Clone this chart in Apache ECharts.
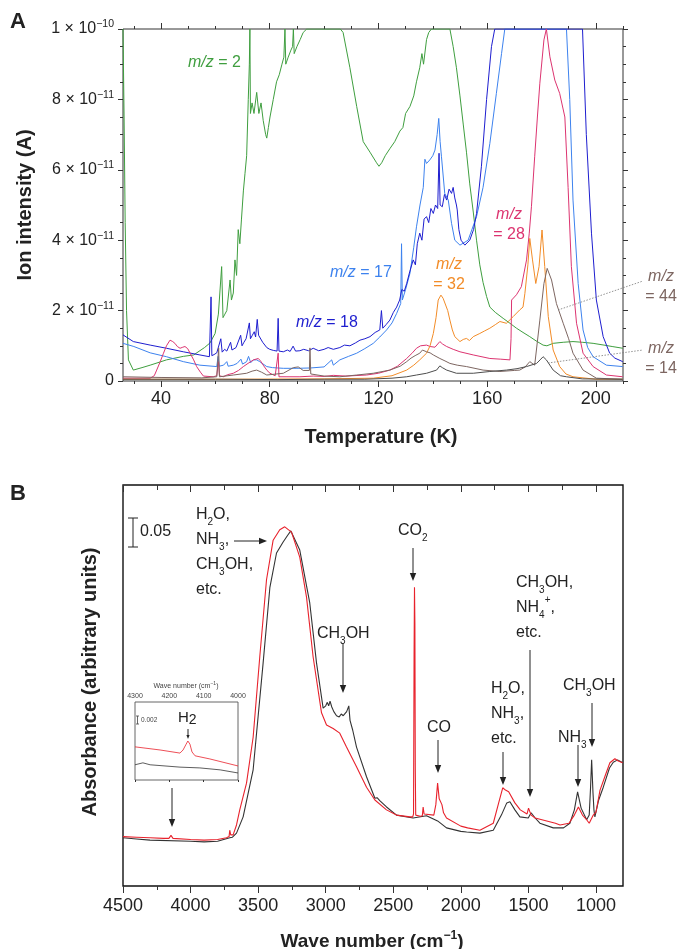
<!DOCTYPE html>
<html><head><meta charset="utf-8">
<script src="https://cdn.jsdelivr.net/npm/echarts@6/dist/echarts.min.js"></script>
<style>html,body{margin:0;padding:0;background:#fff}#c{width:679px;height:949px}</style>
</head><body><div id="c"></div><script>
// ---------- Panel A: ion intensity (units of 1e-11 A) vs temperature (K) ----------
const xTicksA = [40, 80, 120, 160, 200];
const xMinorA = [30, 50, 60, 70, 90, 100, 110, 130, 140, 150, 170, 180, 190, 210];
const yTicksA = [0, 2, 4, 6, 8, 10];
const mz2 = [[26.0,10],[26.4,7.5],[26.8,4.5],[27.3,2.0],[28.0,0.6],[29.8,0.31],[33,0.38],[36,0.45],[42,0.6],[48.2,0.7],[52,0.74],[56,0.95],[58,1.08],[59.9,1.35],[61.1,1.9],[62.3,3.25],[62.8,1.8],[63.5,1.9],[64.2,2.0],[65.4,2.87],[65.9,2.3],[66.6,2.5],[67.2,3.44],[67.8,3.0],[68.4,4.3],[69,3.9],[69.6,4.6],[70.3,5.4],[70.9,5.9],[71.5,6.4],[72.1,8.0],[72.5,9.0],[72.7,10],[72.9,7.6],[73.5,7.9],[74.2,7.6],[75.2,8.2],[76,7.6],[76.8,7.9],[77.6,7.4],[78.5,7.0],[78.9,6.9],[79.5,7.2],[80.1,7.5],[81.3,8.0],[82.5,8.5],[83.5,8.7],[84.5,9.0],[85.2,9.2],[85.6,10],[85.9,9.0],[86.8,9.2],[87.8,9.4],[88.4,9.5],[88.7,10],[89,9.3],[90,9.5],[91.2,9.7],[92.3,9.9],[93.6,10],[106,10],[107,9.9],[109.5,8.9],[112,7.8],[114.4,6.8],[116.9,6.5],[119.3,6.2],[120.2,6.1],[121.2,6.2],[122.5,6.4],[124.2,6.6],[126,6.8],[127.9,7.1],[129,7.2],[130,7.6],[131.6,7.8],[133,8.1],[134,8.5],[135.2,8.9],[136,9.3],[136.6,9.0],[137.7,9.7],[138.5,9.9],[139.5,10],[146.3,10],[147.5,9.5],[148.7,8.9],[150,8.1],[151.2,7.3],[152.4,6.5],[153.6,5.6],[154.9,4.8],[156.1,4.0],[157.3,3.3],[158.5,2.8],[159.8,2.4],[161,2.1],[163,1.95],[165.9,1.78],[168.4,1.64],[170.8,1.5],[173.2,1.38],[175.7,1.26],[178,1.14],[180.6,1.02],[182,1.0],[184.3,1.07],[188,1.1],[191.6,1.12],[195,1.1],[199,1.07],[203,1.02],[206,0.98],[209.9,0.93]];
const mz17 = [[26,1.07],[30,0.98],[36,0.8],[42,0.69],[48.2,0.55],[54.3,0.45],[60.5,0.41],[61,0.7],[61.4,0.42],[63,0.45],[64.2,0.55],[64.7,0.42],[66.6,0.45],[68,0.5],[69.4,0.62],[70,0.48],[71.5,0.55],[72.2,0.7],[73,0.52],[74,0.6],[75.2,0.6],[76.3,0.55],[78.9,0.41],[81,0.38],[83,0.37],[85,0.36],[90,0.36],[95,0.37],[100,0.4],[102.8,0.6],[103.4,0.45],[105.8,0.6],[109,0.7],[112,0.79],[115,0.92],[118.1,1.07],[120.5,1.25],[123,1.45],[125,1.65],[126.7,1.92],[128.2,2.2],[128.5,3.9],[128.8,2.3],[130,2.6],[131.6,3.06],[133,3.8],[134,4.38],[135.3,5.0],[136.5,5.5],[137.1,6.3],[137.7,6.18],[138.9,6.28],[140,6.4],[140.8,6.56],[141.6,7.0],[142.2,7.46],[142.7,6.8],[143.2,6.37],[144.4,5.33],[145.7,5.14],[146.9,4.48],[148.1,4.0],[150,3.86],[153,4.0],[156.1,4.67],[158.5,5.5],[161,6.75],[163.4,8.17],[165.3,9.3],[166.5,10],[189.2,10],[190.4,8.0],[191.6,5.14],[193.5,2.77],[195.3,1.45],[197,0.95],[199,0.69],[203.9,0.45],[209.9,0.41]];
const mz18 = [[26,1.31],[29.8,1.12],[36,1.02],[42,0.93],[48.2,0.83],[54.3,0.74],[57.8,0.69],[58.4,2.39],[58.7,0.72],[59.5,0.75],[60.5,0.8],[61.2,0.78],[62,1.2],[62.5,0.82],[63.4,0.9],[64.2,0.85],[65.6,1.1],[66.1,0.88],[67.6,0.95],[68.3,1.0],[69.3,1.3],[69.8,1.0],[70.5,1.1],[71.3,1.2],[72.5,1.65],[72.9,1.2],[73.6,1.3],[74.3,1.4],[74.8,1.25],[75.4,1.75],[75.9,1.3],[76.5,1.25],[77.4,1.1],[78.9,0.95],[80,0.9],[81.3,0.87],[82.7,0.85],[83.1,1.78],[83.4,0.85],[85,0.83],[86.5,0.88],[87.5,0.84],[88.6,0.99],[89.5,0.85],[91.1,0.86],[92.5,0.9],[94.3,0.86],[96,0.93],[98,0.86],[100,0.9],[101.5,0.95],[103.4,0.9],[105.8,0.95],[107.5,1.02],[109.5,1.0],[111.5,1.08],[113.2,1.16],[115,1.2],[116.9,1.26],[118.8,1.38],[120.5,1.45],[121.1,2.0],[121.6,1.5],[122.8,1.6],[124.2,1.73],[125.5,1.95],[126.7,2.1],[127.8,2.3],[128.6,2.6],[129.5,2.55],[130.4,2.77],[131.5,3.1],[132.8,3.44],[133.6,3.3],[134.3,3.9],[135.2,4.2],[136,4.0],[136.8,4.6],[137.7,4.67],[138.5,4.5],[139.3,4.9],[140.2,4.76],[141,5.0],[141.8,4.9],[142.3,6.47],[142.7,5.0],[143.5,4.95],[144.3,5.3],[145.1,5.14],[146,5.45],[146.9,5.33],[147.5,5.5],[148.1,5.2],[148.7,5.0],[149,4.86],[149.6,4.3],[150.4,4.0],[151.8,3.86],[153.6,4.0],[155,4.3],[156.1,4.76],[157.9,6.1],[159.8,8.0],[161.6,9.5],[162.8,10],[195.1,10],[196.5,7.0],[198.4,4.2],[200.2,2.3],[202.7,1.26],[205.1,0.79],[207,0.65],[209.9,0.55]];
const mz28 = [[26,0.08],[36,0.08],[37.5,0.15],[38.4,0.31],[39.7,0.55],[40.9,0.79],[42,1.0],[43.3,1.16],[44.3,1.12],[45.1,1.07],[46,0.98],[47,0.93],[48,0.96],[48.8,0.98],[49.8,0.92],[50.7,0.79],[52,0.6],[53.1,0.41],[54.5,0.25],[55.6,0.14],[59.2,0.12],[60.5,0.15],[61.1,0.55],[61.5,0.15],[62.9,0.12],[64.5,0.18],[66.6,0.22],[68.5,0.3],[70.3,0.41],[72,0.5],[74,0.6],[75.8,0.64],[76.8,0.55],[77.6,0.45],[79,0.3],[80.1,0.22],[82,0.15],[83.1,0.79],[83.4,0.12],[86,0.12],[91.1,0.12],[96,0.14],[100,0.13],[103.4,0.16],[108,0.14],[115.6,0.17],[120,0.22],[124.2,0.31],[127,0.42],[130.4,0.64],[132.5,0.8],[134,0.93],[135.5,1.0],[137.7,1.02],[139,0.98],[140.8,0.96],[142.6,1.12],[143.6,1.05],[145.1,0.98],[147.5,0.9],[150,0.83],[154.9,0.74],[161,0.64],[165,0.62],[168.4,0.6],[168.8,1.2],[169,2.3],[170.8,2.45],[172.6,2.68],[174.5,3.44],[175.5,4.2],[176.3,4.95],[177.5,6.37],[178.5,7.5],[179.4,8.46],[180.9,9.69],[181.8,10],[183.1,9.21],[184.9,8.55],[186.7,8.17],[188.6,7.5],[189.8,5.5],[191,3.25],[192.9,1.64],[195.3,0.79],[199,0.41],[203.9,0.17],[209.9,0.12]];
const mz32 = [[26,0.05],[60,0.05],[100,0.06],[118.1,0.08],[125,0.15],[130.4,0.31],[133,0.45],[135.2,0.6],[137.7,0.79],[139,1.0],[140.2,1.35],[141.2,1.8],[142,2.3],[143,2.44],[143.8,2.35],[144.4,2.3],[145.5,2.0],[146.3,1.73],[147.2,1.45],[148.1,1.26],[150,1.12],[151.2,1.18],[152.4,1.21],[153.5,1.15],[154.9,1.26],[157.3,1.35],[159,1.42],[161,1.5],[163,1.6],[164.7,1.69],[167.1,1.64],[169.6,1.83],[172,2.02],[173.2,2.1],[173.9,2.49],[175,3.3],[175.7,4.05],[176.7,3.44],[177.9,2.77],[179.1,3.25],[180.2,4.29],[181.2,3.25],[182.5,1.83],[184.3,0.88],[186.7,0.41],[189,0.2],[191.6,0.12],[200,0.05],[209.9,0.05]];
const mz44 = [[26,0.12],[40,0.1],[55,0.09],[60.5,0.12],[61.2,0.94],[61.5,0.12],[66.6,0.17],[71.5,0.22],[73.5,0.28],[75.2,0.31],[77,0.25],[78.9,0.17],[85,0.22],[88.7,0.38],[90.5,0.4],[92.3,0.3],[94.6,0.3],[94.8,0.94],[95.1,0.2],[100,0.14],[105.8,0.12],[112,0.17],[118.1,0.22],[124.2,0.31],[128,0.42],[130.4,0.55],[132,0.65],[133.5,0.72],[135.2,0.79],[136.2,0.88],[137.7,0.83],[139,0.8],[140.2,0.74],[142.6,0.64],[144.5,0.57],[146.3,0.5],[149,0.45],[152.4,0.41],[158.5,0.31],[164.7,0.27],[170,0.3],[172,0.31],[174,0.4],[175.7,0.55],[177.5,0.45],[179.4,1.73],[180.9,2.77],[182.1,3.2],[183.7,2.87],[185.5,2.2],[188,1.64],[190,1.2],[191.6,0.79],[195.3,0.31],[200.2,0.08],[209.9,0.05]];
const mz14 = [[26,0.05],[60,0.05],[83,0.04],[100,0.05],[115,0.05],[125,0.08],[130.4,0.12],[134,0.17],[137.7,0.22],[141.4,0.31],[142.6,0.43],[143.5,0.38],[145.1,0.31],[148.7,0.22],[154.9,0.22],[161,0.27],[167.1,0.31],[171,0.35],[174.5,0.41],[178.2,0.5],[179.5,0.6],[180.6,0.69],[181.8,0.6],[184.3,0.31],[187,0.15],[189.2,0.12],[195,0.06],[209.9,0.05]];

// ---------- Panel B: absorbance (arbitrary) vs wave number (cm-1) ----------
const xTicksB = [1000, 1500, 2000, 2500, 3000, 3500, 4000, 4500];
const xMinorB = [1250, 1750, 2250, 2750, 3250, 3750, 4250];
const specRed = [[4500,0.085],[4400,0.084],[4300,0.083],[4200,0.082],[4160,0.082],[4150,0.085],[4145,0.087],[4138,0.084],[4130,0.082],[4000,0.080],[3900,0.079],[3800,0.080],[3734,0.083],[3715,0.085],[3710,0.096],[3703,0.088],[3685,0.088],[3660,0.105],[3636,0.131],[3586,0.177],[3537,0.256],[3488,0.394],[3438,0.527],[3389,0.595],[3340,0.613],[3303,0.618],[3253,0.609],[3192,0.566],[3142,0.497],[3093,0.394],[3031,0.298],[2994,0.277],[2945,0.271],[2896,0.263],[2846,0.239],[2772,0.205],[2698,0.170],[2636,0.148],[2550,0.131],[2476,0.122],[2377,0.119],[2356,0.119],[2350,0.124],[2346,0.40],[2343,0.514],[2340,0.45],[2337,0.2],[2334,0.122],[2300,0.12],[2285,0.121],[2279,0.136],[2272,0.124],[2200,0.122],[2185,0.14],[2172,0.177],[2160,0.15],[2150,0.147],[2140,0.14],[2128,0.126],[2106,0.117],[2000,0.103],[1950,0.1],[1859,0.096],[1760,0.108],[1720,0.143],[1690,0.169],[1670,0.165],[1646,0.162],[1600,0.143],[1560,0.131],[1510,0.124],[1499,0.134],[1480,0.122],[1450,0.117],[1400,0.114],[1300,0.108],[1266,0.105],[1200,0.108],[1160,0.122],[1130,0.136],[1100,0.122],[1069,0.114],[1050,0.108],[1020,0.122],[1000,0.127],[970,0.165],[930,0.191],[897,0.212],[860,0.219],[835,0.215],[803,0.212]];
const specBlack = [[4500,0.083],[4400,0.081],[4300,0.079],[4000,0.077],[3900,0.076],[3800,0.077],[3710,0.083],[3690,0.084],[3660,0.091],[3611,0.119],[3537,0.2],[3463,0.384],[3413,0.514],[3364,0.573],[3315,0.592],[3280,0.604],[3258,0.611],[3192,0.578],[3118,0.487],[3068,0.384],[3019,0.306],[3000,0.31],[2988,0.316],[2978,0.31],[2968,0.318],[2955,0.308],[2940,0.3],[2920,0.293],[2900,0.291],[2885,0.296],[2870,0.293],[2845,0.3],[2829,0.31],[2820,0.285],[2800,0.268],[2772,0.239],[2698,0.188],[2636,0.151],[2620,0.152],[2600,0.147],[2550,0.136],[2476,0.122],[2353,0.117],[2254,0.121],[2172,0.112],[2106,0.1],[2000,0.094],[1957,0.093],[1859,0.091],[1760,0.096],[1700,0.122],[1660,0.143],[1637,0.145],[1600,0.131],[1563,0.119],[1501,0.117],[1480,0.126],[1450,0.117],[1415,0.108],[1316,0.1],[1240,0.1],[1193,0.108],[1160,0.131],[1136,0.162],[1110,0.134],[1069,0.114],[1050,0.122],[1040,0.17],[1032,0.217],[1022,0.16],[1015,0.131],[1008,0.119],[980,0.148],[946,0.17],[900,0.203],[872,0.213],[840,0.217],[802,0.212]];
// inset (H2 region)
const xTicksInset = [4000, 4100, 4200, 4300];
const insetRed = [[4300,0.0085],[4227,0.0077],[4169,0.0069],[4160,0.0077],[4151,0.0092],[4146,0.0100],[4140,0.0092],[4134,0.0072],[4125,0.0062],[4082,0.0054],[4000,0.0036]];
const insetBlack = [[4300,0.0039],[4277,0.0044],[4256,0.0039],[4169,0.0033],[4111,0.0031],[4052,0.0026],[4000,0.0018]];

const FF = '"Liberation Sans", Arial, Helvetica, sans-serif';
const DARK = '#222';
const C = {g:'#3f9e3f', lb:'#3d82ee', db:'#1e1ecf', pk:'#dc3470', or:'#f28c28', br:'#7d6661', dg:'#4d4d4d', red:'#e8222c', blk:'#333'};

const tickLine = {color:'#333', width:1};
const plain = v => String(v);
function xAx(grid, pos, min, max, vals, len, inside, labels, extra) {
  return Object.assign({gridIndex:grid, type:'value', position:pos, min, max,
    axisLine:{show:false}, splitLine:{show:false},
    axisTick:{show:true, inside, length:len, customValues:vals, lineStyle:tickLine},
    axisLabel: labels ? Object.assign({customValues:vals, fontFamily:FF, color:DARK, formatter:plain}, labels) : {show:false}}, extra||{});
}
const yRich = {b:{fontSize:16, fontFamily:FF, color:DARK, lineHeight:20},
               s:{fontSize:10.5, fontFamily:FF, color:DARK, lineHeight:12, verticalAlign:'top'}};
function yFmt(v){ if (v===0) return '{b|0}'; if (v===10) return '{b|1 × 10}{s|−10}'; return '{b|'+v+' × 10}{s|−11}'; }

function line(name, data, color, xi, yi, w) {
  return {name, type:'line', data, xAxisIndex:xi, yAxisIndex:yi, showSymbol:false, symbol:'none',
    lineStyle:{color, width:w||1}, itemStyle:{color}, animation:false, silent:true, z:3};
}

// ---------- annotations ----------
const G = [];
function txt(x, y, text, o) {
  G.push({type:'text', x, y, z:100, silent:true, rotation:(o&&o.rot)||0,
    style:Object.assign({text, fill:DARK, fontFamily:FF, fontSize:16, align:'left', verticalAlign:'middle',
      textAlign:'left', textVerticalAlign:'middle'}, o&&o.style)});
}
function seg(x1,y1,x2,y2,color,w,dash){
  G.push({type:'line', z:100, silent:true, shape:{x1,y1,x2,y2}, style:{stroke:color||DARK, lineWidth:w||1, lineDash:dash||null}});
}
function arrow(x1,y1,x2,y2,head,half){
  head = head||8; half = half||3.2;
  const a = Math.atan2(y2-y1, x2-x1);
  const bx = x2-head*Math.cos(a), by = y2-head*Math.sin(a);
  const px = -Math.sin(a)*half, py = Math.cos(a)*half;
  seg(x1,y1,bx,by,DARK,1);
  G.push({type:'polygon', z:100, silent:true, shape:{points:[[x2,y2],[bx+px,by+py],[bx-px,by-py]]}, style:{fill:DARK}});
}
const chem = {
  sub:{fontSize:10, fontFamily:FF, fill:DARK, lineHeight:14, verticalAlign:'bottom'},
  sup:{fontSize:10, fontFamily:FF, fill:DARK, lineHeight:14, verticalAlign:'top'},
  n:{fontSize:16, fontFamily:FF, fill:DARK, lineHeight:25}
};
function chemText(x, y, text, o){ txt(x, y, text, {style:Object.assign({rich:chem, verticalAlign:'top', textVerticalAlign:'top'}, o||{})}); }
function mzRich(color){
  return {i:{fontStyle:'italic', fontSize:16, fontFamily:FF, fill:color, lineHeight:20},
          n:{fontSize:16, fontFamily:FF, fill:color, lineHeight:20}};
}
function mz(x, y, text, color, align){
  txt(x, y, text, {style:{rich:mzRich(color), fill:color, align:align||'left', textAlign:align||'left'}});
}

// panel letters and axis titles
txt(10, 22, 'A', {style:{fontSize:22, fontWeight:'bold'}});
txt(10, 494, 'B', {style:{fontSize:22, fontWeight:'bold'}});
txt(25, 205, 'Ion intensity (A)', {rot:Math.PI/2, style:{fontSize:20, fontWeight:'bold', align:'center', textAlign:'center'}});
txt(381, 437, 'Temperature (K)', {style:{fontSize:20, fontWeight:'bold', align:'center', textAlign:'center'}});
txt(90, 682, 'Absorbance (arbitrary units)', {rot:Math.PI/2, style:{fontSize:20, fontWeight:'bold', align:'center', textAlign:'center'}});
txt(372, 942, '{m|Wave number (cm}{s|−1}{m|)}', {style:{align:'center', textAlign:'center',
  rich:{m:{fontSize:19, fontWeight:'bold', fontFamily:FF, fill:DARK, lineHeight:24},
        s:{fontSize:12, fontWeight:'bold', fontFamily:FF, fill:DARK, lineHeight:14, verticalAlign:'top'}}}});

// panel A labels
mz(188, 63, '{i|m/z}{n| = 2}', C.g);
mz(330, 273, '{i|m/z}{n| = 17}', C.lb);
mz(296, 323, '{i|m/z}{n| = 18}', C.db);
mz(509, 225, '{i|m/z}\n{n|= 28}', C.pk, 'center');
mz(449, 275, '{i|m/z}\n{n|= 32}', C.or, 'center');
mz(661, 287, '{i|m/z}\n{n|= 44}', C.br, 'center');
mz(661, 359, '{i|m/z}\n{n|= 14}', C.br, 'center');
seg(558, 310, 643, 281, '#777', 0.8, [1.5, 1.5]);
seg(548, 363, 643, 350, '#777', 0.8, [1.5, 1.5]);

// panel B labels
seg(133, 518, 133, 547); seg(128, 518, 138, 518); seg(128, 547, 138, 547);
txt(140, 532, '0.05', {style:{fontSize:16}});
chemText(196, 502, '{n|H}{sub|2}{n|O,}\n{n|NH}{sub|3}{n|,}\n{n|CH}{sub|3}{n|OH,}\n{n|etc.}');
arrow(234, 541, 267, 541);
chemText(317, 621, '{n|CH}{sub|3}{n|OH}');
arrow(343, 643, 343, 693);
chemText(398, 518, '{n|CO}{sub|2}');
arrow(413, 548, 413, 581);
chemText(427, 715, '{n|CO}');
arrow(438, 740, 438, 773);
chemText(491, 676, '{n|H}{sub|2}{n|O,}\n{n|NH}{sub|3}{n|,}\n{n|etc.}');
arrow(503, 752, 503, 785);
chemText(516, 570, '{n|CH}{sub|3}{n|OH,}\n{n|NH}{sub|4}{sup|+}{n|,}\n{n|etc.}');
arrow(530, 650, 530, 797);
chemText(558, 725, '{n|NH}{sub|3}');
arrow(578, 745, 578, 787);
chemText(563, 673, '{n|CH}{sub|3}{n|OH}');
arrow(592, 703, 592, 747);
arrow(172, 788, 172, 827);
// inset decorations
txt(186, 686, '{m|Wave number (cm}{s|−1}{m|)}', {style:{align:'center', textAlign:'center',
  rich:{m:{fontSize:7, fontFamily:FF, fill:'#444', lineHeight:9}, s:{fontSize:5, fontFamily:FF, fill:'#444', lineHeight:6, verticalAlign:'top'}}}});
seg(137.5, 716, 137.5, 724, '#444', 0.8); seg(136, 716, 139, 716, '#444', 0.8); seg(136, 724, 139, 724, '#444', 0.8);
txt(141, 720, '0.002', {style:{fontSize:6.5, fill:'#444'}});
txt(178, 718, '{h|H}{t|2}', {style:{rich:{h:{fontSize:15, fontFamily:FF, fill:DARK, lineHeight:18},
  t:{fontSize:14, fontFamily:FF, fill:DARK, lineHeight:16, verticalAlign:'bottom'}}}});
arrow(188, 729, 188, 739, 4, 1.6);

const chart = echarts.init(document.getElementById('c'), null, {renderer:'canvas'});
chart.setOption({
  animation:false,
  backgroundColor:'#fff',
  grid:[
    {left:123, top:29, width:500, height:352, show:true, borderColor:'#333', borderWidth:1, backgroundColor:'transparent'},
    {left:123, top:485, width:500, height:401, show:true, borderColor:'#111', borderWidth:1.4, backgroundColor:'transparent'},
    {left:135, top:702, width:103, height:78, show:true, borderColor:'#555', borderWidth:0.9, backgroundColor:'#fff'}
  ],
  xAxis:[
    xAx(0,'bottom',26,210,xTicksA,6,false,{fontSize:18, margin:9}),
    xAx(0,'bottom',26,210,xMinorA,3,false,null),
    xAx(0,'top',26,210,xTicksA,6,false,null),
    xAx(0,'top',26,210,xMinorA,3,false,null),
    xAx(1,'bottom',800,4500,xTicksB,7,false,{fontSize:18, margin:11},{inverse:true}),
    xAx(1,'bottom',800,4500,xMinorB,4,false,null,{inverse:true}),
    xAx(1,'top',800,4500,xTicksB,7,true,null,{inverse:true}),
    xAx(1,'top',800,4500,xMinorB,5,true,null,{inverse:true}),
    xAx(2,'top',4000,4300,xTicksInset,2,true,{fontSize:7, margin:2, color:'#444'},{inverse:true})
  ],
  yAxis:[
    {gridIndex:0, type:'value', position:'left', min:0, max:10, interval:2,
      axisLine:{show:false}, splitLine:{show:false}, minorSplitLine:{show:false},
      axisTick:{show:true, length:5, inside:false, lineStyle:tickLine},
      minorTick:{show:true, splitNumber:4, length:3, lineStyle:tickLine},
      axisLabel:{formatter:yFmt, rich:yRich, margin:9, customValues:yTicksA}},
    {gridIndex:0, type:'value', position:'right', min:0, max:10, interval:2,
      axisLine:{show:false}, splitLine:{show:false}, minorSplitLine:{show:false},
      axisTick:{show:true, length:5, inside:false, lineStyle:tickLine},
      minorTick:{show:true, splitNumber:4, length:3, lineStyle:tickLine},
      axisLabel:{show:false}},
    {gridIndex:1, type:'value', min:0, max:0.69, axisLine:{show:false}, axisTick:{show:false}, axisLabel:{show:false}, splitLine:{show:false}},
    {gridIndex:2, type:'value', min:0, max:0.02, axisLine:{show:false}, axisTick:{show:false}, axisLabel:{show:false}, splitLine:{show:false}}
  ],
  series:[
    line('m/z=2', mz2, C.g, 0, 0),
    line('m/z=17', mz17, C.lb, 0, 0),
    line('m/z=18', mz18, C.db, 0, 0),
    line('m/z=28', mz28, C.pk, 0, 0),
    line('m/z=32', mz32, C.or, 0, 0),
    line('m/z=44', mz44, C.br, 0, 0),
    line('m/z=14', mz14, C.dg, 0, 0),
    line('before', specBlack, C.blk, 4, 2, 1.1),
    line('after', specRed, C.red, 4, 2, 1.1),
    line('inset before', insetBlack, C.blk, 8, 3, 0.8),
    line('inset after', insetRed, C.red, 8, 3, 0.8)
  ],
  graphic: G
});
</script></body></html>
